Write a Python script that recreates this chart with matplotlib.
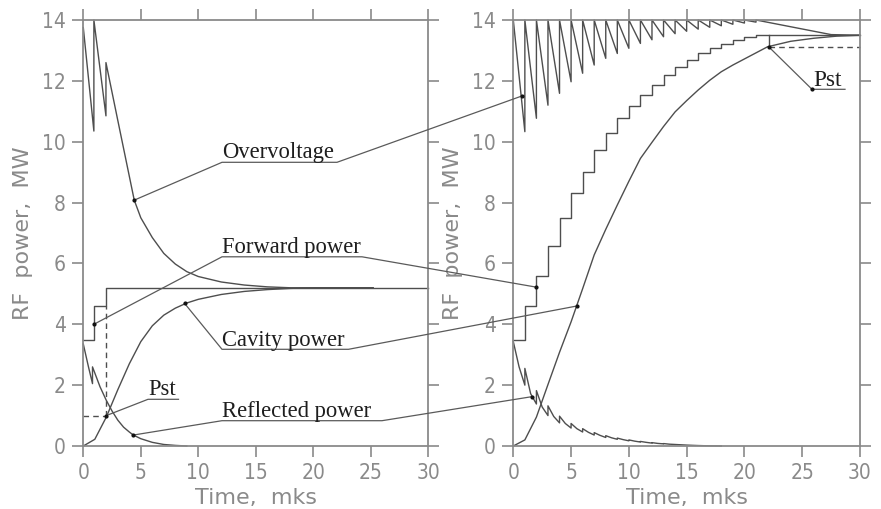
import numpy as np
import matplotlib
matplotlib.use("Agg")
import matplotlib.pyplot as plt
from matplotlib.lines import Line2D

# ---------------- data ----------------
# Left panel (single-step feeding)
fwd_left_t = [0, 0.92, 2.0, 30]
fwd_left_v = [3.5, 4.6, 5.2, 5.2]

ov_left_t = [0, 0.92, 0.92, 1.97, 1.97, 3.0, 4.43, 5, 6, 7, 8, 9, 10, 12, 14, 16, 18, 25.2]
ov_left_v = [13.75, 10.35, 14.0, 10.85, 12.6, 10.7, 8.08, 7.5, 6.85, 6.33, 5.98, 5.73, 5.57, 5.39, 5.29, 5.23, 5.2, 5.2]

cav_left_t = [0, 1, 2, 3, 4, 5, 6, 7, 8, 9, 10, 12, 14, 16, 18, 20, 25.2]
cav_left_v = [0, 0.22, 0.95, 1.85, 2.7, 3.43, 3.95, 4.3, 4.53, 4.7, 4.82, 4.98, 5.08, 5.14, 5.18, 5.2, 5.2]

refl_left_t = [0, 0.45, 0.8, 0.8, 1.45, 2.0, 2.5, 3.0, 3.5, 4.0, 4.35, 5, 6, 7, 8, 9]
refl_left_v = [3.35, 2.6, 2.05, 2.6, 1.95, 1.5, 1.15, 0.85, 0.62, 0.46, 0.36, 0.24, 0.12, 0.05, 0.02, 0.0]

pst_left_t = 2.0
pst_left_v = 1.0
pst_left_top = 4.6

# Right panel (multi-step feeding)
fwd_right_levels = [3.5, 4.6, 5.6, 6.57, 7.48, 8.3, 9.01, 9.73, 10.28, 10.77, 11.17,
                    11.53, 11.88, 12.2, 12.46, 12.68, 12.9, 13.08, 13.22, 13.35, 13.43, 13.5]
fwd_right_end = 30

ov_right_peak = 14.0
ov_right_min = [10.33, 10.77, 11.2, 11.59, 11.97, 12.25, 12.52, 12.74, 12.9, 13.07, 13.23,
                13.35, 13.45, 13.55, 13.63, 13.7, 13.76, 13.81, 13.86, 13.9, 13.93]
ov_right_tail_t = [27.5, 30]
ov_right_tail_v = [13.52, 13.5]

cav_right_t = [0, 1, 2, 3, 4, 5, 6, 7, 8, 9, 10, 11, 12, 13, 14, 15, 16, 17, 18, 19, 20, 22, 24, 26, 28, 30]
cav_right_v = [0, 0.2, 0.95, 2.02, 3.08, 4.08, 5.17, 6.28, 7.12, 7.92, 8.7, 9.45, 9.98, 10.5,
               10.98, 11.35, 11.7, 12.02, 12.3, 12.52, 12.72, 13.12, 13.3, 13.4, 13.47, 13.5]

refl_right_high = [3.43, 2.55, 1.82, 1.32, 0.98, 0.74, 0.57, 0.44, 0.34, 0.26, 0.2, 0.15,
                   0.11, 0.08, 0.05, 0.03, 0.015, 0.005]
refl_right_mid = [2.6, 1.72, 1.28, 0.97, 0.74, 0.57, 0.45, 0.35, 0.27, 0.21, 0.16, 0.12,
                  0.085, 0.06, 0.04, 0.022, 0.01, 0.003]
refl_right_low = [2.0, 1.38, 1.0, 0.76, 0.59, 0.46, 0.36, 0.28, 0.22, 0.17, 0.13, 0.095,
                  0.07, 0.05, 0.03, 0.015, 0.005, 0.0]

pst_right_t = 22.1
pst_right_v = 13.12
pst_right_top = 13.5

# annotation anchors on the curves (t, value)
ann_names = ["Overvoltage", "Forward power", "Cavity power", "Reflected power"]
ann_left_pts = [(4.43, 8.08), (0.92, 4.0), (8.8, 4.69), (4.35, 0.36)]
ann_right_pts = [(0.72, 11.5), (2.0, 5.22), (5.49, 4.6), (1.59, 1.62)]

xticks = [0, 5, 10, 15, 20, 25, 30]
yticks = [0, 2, 4, 6, 8, 10, 12, 14]

# ---------------- figure ----------------
W, H = 881, 509
fig = plt.figure(figsize=(W / 100, H / 100), dpi=100)

def px(x, y):
    return (x / W, 1 - y / H)

axL = fig.add_axes([83.3 / W, 1 - 446 / H, 345 / W, 426 / H])
axR = fig.add_axes([513.3 / W, 1 - 446 / H, 346.7 / W, 426 / H])

AX_COL = "#8a8a8a"
LN_COL = "#4e4e4e"
LEAD_COL = "#5a5a5a"
TXT_COL = "#1e1e1e"
lab_font = ["DejaVu Sans"]
serif = ["Liberation Serif", "DejaVu Serif"]

for ax in (axL, axR):
    ax.set_xlim(0, 30)
    ax.set_ylim(0, 14)
    ax.set_xticks(xticks)
    ax.set_yticks(yticks)
    ax.tick_params(direction="out", length=8, width=1.2, color=AX_COL,
                   top=True, right=True, labelsize=15, labelcolor=AX_COL, pad=4.5)
    for lab in ax.get_xticklabels() + ax.get_yticklabels():
        lab.set_family("DejaVu Sans")
        lab.set_stretch("condensed")
    for s in ax.spines.values():
        s.set_color(AX_COL)
        s.set_linewidth(1.3)
    ax.set_xlabel("Time,  mks", fontsize=16, color=AX_COL, family=lab_font)
    ax.set_ylabel("RF  power,  MW", fontsize=16, color=AX_COL, family=lab_font)
    ax.xaxis.set_label_coords(0.5, -0.098)
    ax.yaxis.set_label_coords(-0.145, 0.5)
    ax.patch.set_alpha(0)

kw = dict(color=LN_COL, lw=1.0, clip_on=False)

# left panel curves
axL.plot(fwd_left_t, fwd_left_v, drawstyle="steps-post", **kw)
axL.plot(ov_left_t, ov_left_v, **kw)
axL.plot(cav_left_t, cav_left_v, **kw)
axL.plot(refl_left_t, refl_left_v, **kw)
axL.plot([pst_left_t, pst_left_t], [pst_left_v, pst_left_top], color=LN_COL, lw=1.0,
         ls=(0, (4, 3)))
axL.plot([0, pst_left_t], [pst_left_v, pst_left_v], color=LN_COL, lw=1.0, ls=(0, (4, 3)))

# right panel curves
fr_t = list(range(len(fwd_right_levels))) + [fwd_right_end]
fr_v = fwd_right_levels + [fwd_right_levels[-1]]
axR.plot(fr_t, fr_v, drawstyle="steps-post", **kw)

ovr_t, ovr_v = [], []
for k, m in enumerate(ov_right_min):
    ovr_t += [k, k + 1]
    ovr_v += [ov_right_peak, m]
ovr_t += [len(ov_right_min)] + ov_right_tail_t
ovr_v += [ov_right_peak] + ov_right_tail_v
axR.plot(ovr_t, ovr_v, **kw)

axR.plot(cav_right_t, cav_right_v, **kw)

rr_t, rr_v = [], []
for k in range(len(refl_right_high)):
    rr_t += [k, k + 0.5, k + 1]
    rr_v += [refl_right_high[k], refl_right_mid[k], refl_right_low[k]]
axR.plot(rr_t, rr_v, **kw)

axR.plot([pst_right_t, pst_right_t], [pst_right_v, pst_right_top], color=LN_COL, lw=1.0)
axR.plot([pst_right_t, 30], [pst_right_v, pst_right_v], color=LN_COL, lw=1.0,
         ls=(0, (4, 3)), clip_on=False)

# ---------------- annotations ----------------
inv = fig.transFigure.inverted()

def dfig(ax, pt):
    return tuple(inv.transform(ax.transData.transform(pt)))

def leader(points, dots=()):
    xs = [p[0] for p in points]
    ys = [p[1] for p in points]
    fig.add_artist(Line2D(xs, ys, transform=fig.transFigure, color=LEAD_COL, lw=0.9,
                          zorder=5))
    for d in dots:
        fig.add_artist(Line2D([d[0]], [d[1]], transform=fig.transFigure, marker="o",
                              ms=2.0, color="#111111", lw=0, zorder=6))

text_x0 = 222
underline_y = [162.3, 256.8, 349.3, 420.7]
underline_x1 = [337, 362, 348.5, 382]
baseline_y = [158.3, 253.2, 345.8, 416.5]

for i, name in enumerate(ann_names):
    pL = dfig(axL, ann_left_pts[i])
    pR = dfig(axR, ann_right_pts[i])
    a = px(text_x0, underline_y[i])
    b = px(underline_x1[i], underline_y[i])
    leader([pL, a, b, pR], dots=[pL, pR])
    tx, ty = px(text_x0, baseline_y[i])
    fig.text(tx, ty, name, family=serif, fontsize=16.3, color=TXT_COL,
             ha="left", va="baseline", zorder=7)

# Pst left
pL = dfig(axL, (pst_left_t, pst_left_v))
leader([pL, px(148, 399.3), px(178.5, 399.3)], dots=[pL])
tx, ty = px(148.5, 395.3)
fig.text(tx, ty, "Pst", family=serif, fontsize=16.3, color=TXT_COL, ha="left",
         va="baseline", zorder=7)

# Pst right
pR = dfig(axR, (pst_right_t, pst_right_v))
leader([pR, px(812, 89.3), px(845, 89.3)], dots=[pR, px(812, 89.3)])
tx, ty = px(813, 86.2)
fig.text(tx, ty, "Pst", family=serif, fontsize=16.8, color=TXT_COL, ha="left",
         va="baseline", zorder=7)

fig.savefig("out.png", dpi=100, facecolor="white")
